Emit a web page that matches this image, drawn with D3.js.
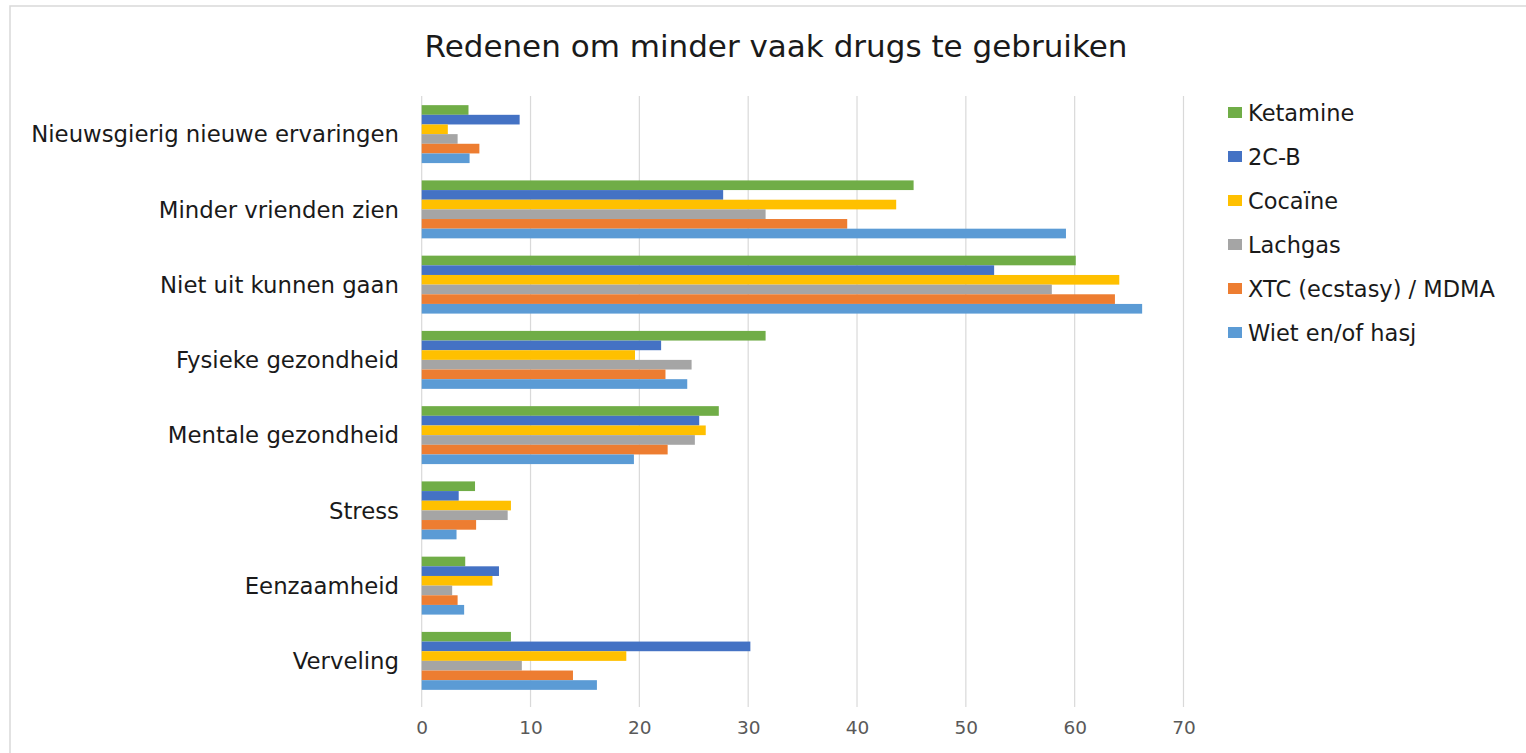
<!DOCTYPE html>
<html><head><meta charset="utf-8">
<script src="https://cdn.jsdelivr.net/npm/d3@7"></script>
<style>html,body{margin:0;padding:0;background:#fff;}svg{display:block;}</style>
</head><body>
<script>
const categories = ["Nieuwsgierig nieuwe ervaringen","Minder vrienden zien","Niet uit kunnen gaan","Fysieke gezondheid","Mentale gezondheid","Stress","Eenzaamheid","Verveling"];
const seriesNames = ["Ketamine","2C-B","Cocaïne","Lachgas","XTC (ecstasy) / MDMA","Wiet en/of hasj"];
const seriesColors = ["#70AD47","#4472C4","#FFC000","#A5A5A5","#ED7D31","#5B9BD5"];
const ketamine = [4.3,45.2,60.1,31.6,27.3,4.9,4.0,8.2];
const twoCB    = [9.0,27.7,52.6,22.0,25.5,3.4,7.1,30.2];
const cocaine  = [2.4,43.6,64.1,19.6,26.1,8.2,6.5,18.8];
const lachgas  = [3.3,31.6,57.9,24.8,25.1,7.9,2.8,9.2];
const xtc      = [5.3,39.1,63.7,22.4,22.6,5.0,3.3,13.9];
const wiet     = [4.4,59.2,66.2,24.4,19.5,3.2,3.9,16.1];
const tickValues = [0,10,20,30,40,50,60,70];
const title = "Redenen om minder vaak drugs te gebruiken";

const seriesValues = [ketamine,twoCB,cocaine,lachgas,xtc,wiet];
const W = 1526, H = 753;
const svg = d3.select("body").append("svg").attr("width",W).attr("height",H);
svg.append("rect").attr("width",W).attr("height",H).attr("fill","#fff");
svg.append("rect").attr("x",10).attr("y",6).attr("width",W).attr("height",H)
  .attr("fill","none").attr("stroke","#d9d9d9").attr("stroke-width",1.5);

const font = "'DejaVu Sans', Verdana, sans-serif";
const x = d3.scaleLinear().domain([0,70]).range([421.7,1183.5]);
const y = d3.scaleBand().domain(categories).range([96.5,698.5]).paddingInner(0.23).paddingOuter(0.115);
const yi = d3.scaleBand().domain(seriesNames).range([0,y.bandwidth()]);

svg.append("text").attr("x",776).attr("y",57).attr("text-anchor","middle")
  .attr("font-family",font).attr("font-size",31).attr("fill","#1a1a1a").text(title);

// gridlines
svg.append("g").selectAll("line").data(tickValues).join("line")
  .attr("x1",d=>x(d)).attr("x2",d=>x(d)).attr("y1",96).attr("y2",707)
  .attr("stroke","#d9d9d9").attr("stroke-width",1.2);

// x axis labels
const xAxis = d3.axisBottom(x).tickValues(tickValues).tickSize(0).tickPadding(0);
const gx = svg.append("g").attr("transform","translate(0,727)").call(xAxis);
gx.select(".domain").remove();
gx.selectAll("text").attr("font-family",font).attr("font-size",18.5).attr("fill","#595959").attr("dy","0.36em");

// y axis labels
const yAxis = d3.axisLeft(y).tickSize(0).tickPadding(0);
const gy = svg.append("g").attr("transform","translate(399,0)").call(yAxis);
gy.select(".domain").remove();
gy.selectAll("text").attr("font-family",font).attr("font-size",22.8).attr("fill","#1a1a1a").attr("dy","0.36em");

// bars
const groups = svg.append("g").selectAll("g").data(categories).join("g")
  .attr("transform",c=>`translate(0,${y(c)})`);
groups.selectAll("rect").data((c,i)=>seriesNames.map((s,j)=>({s, v:seriesValues[j][i], color:seriesColors[j]})))
  .join("rect")
  .attr("x",x(0)).attr("y",d=>yi(d.s)).attr("height",yi.bandwidth())
  .attr("width",d=>x(d.v)-x(0)).attr("fill",d=>d.color);

// legend
const leg = svg.append("g").selectAll("g").data(seriesNames).join("g")
  .attr("transform",(d,i)=>`translate(1228,${112.5+i*44})`);
leg.append("rect").attr("x",0).attr("y",-5.5).attr("width",14).attr("height",11).attr("fill",(d,i)=>seriesColors[i]);
leg.append("text").attr("x",20).attr("y",0).attr("dy","0.36em").attr("font-family",font)
  .attr("font-size",22.5).attr("fill","#1a1a1a").text(d=>d);
</script>
</body></html>
